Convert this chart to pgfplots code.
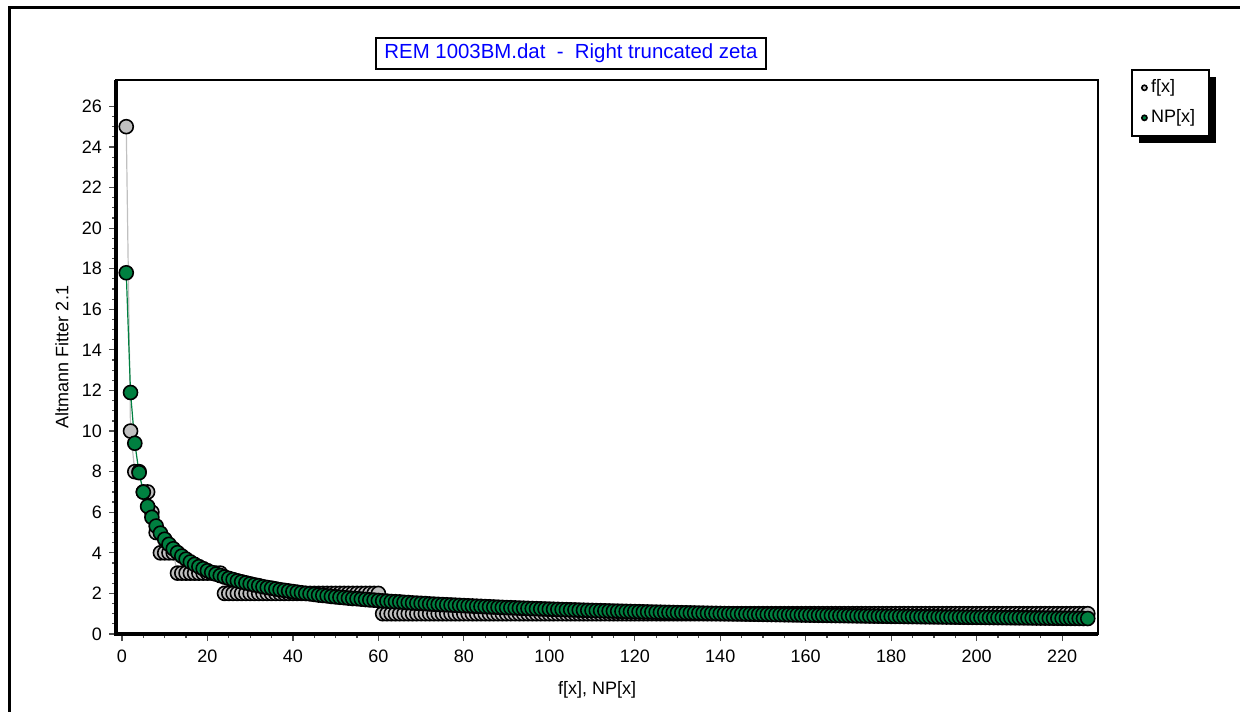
\documentclass[border=0pt]{standalone}
\usepackage{fontspec}
\setmainfont{Liberation Sans}
\usepackage{pgfplots}
\usepackage{pgfplotstable}
\pgfplotsset{compat=1.18}
\usetikzlibrary{shadows}
\definecolor{silv}{RGB}{192,192,192}
\definecolor{fitgreen}{RGB}{0,128,64}
\definecolor{ttlblue}{RGB}{0,0,255}
\pgfplotstableread{
x f np
1 25 17.80
2 10 11.90
3 8 9.40
4 8 7.95
5 7 6.99
6 7 6.29
7 6 5.75
8 5 5.32
9 4 4.97
10 4 4.67
11 4 4.42
12 4 4.20
13 3 4.01
14 3 3.84
15 3 3.69
16 3 3.55
17 3 3.43
18 3 3.32
19 3 3.22
20 3 3.12
21 3 3.03
22 3 2.95
23 3 2.88
24 2 2.81
25 2 2.74
26 2 2.68
27 2 2.62
28 2 2.57
29 2 2.52
30 2 2.47
31 2 2.42
32 2 2.38
33 2 2.33
34 2 2.29
35 2 2.26
36 2 2.22
37 2 2.18
38 2 2.15
39 2 2.12
40 2 2.09
41 2 2.06
42 2 2.03
43 2 2.00
44 2 1.98
45 2 1.95
46 2 1.92
47 2 1.90
48 2 1.88
49 2 1.85
50 2 1.83
51 2 1.81
52 2 1.79
53 2 1.77
54 2 1.75
55 2 1.74
56 2 1.72
57 2 1.70
58 2 1.68
59 2 1.67
60 2 1.65
61 1 1.63
62 1 1.62
63 1 1.60
64 1 1.59
65 1 1.58
66 1 1.56
67 1 1.55
68 1 1.53
69 1 1.52
70 1 1.51
71 1 1.50
72 1 1.48
73 1 1.47
74 1 1.46
75 1 1.45
76 1 1.44
77 1 1.43
78 1 1.42
79 1 1.41
80 1 1.40
81 1 1.39
82 1 1.38
83 1 1.37
84 1 1.36
85 1 1.35
86 1 1.34
87 1 1.33
88 1 1.32
89 1 1.31
90 1 1.30
91 1 1.295
92 1 1.286
93 1 1.278
94 1 1.270
95 1 1.263
96 1 1.255
97 1 1.248
98 1 1.240
99 1 1.233
100 1 1.226
101 1 1.219
102 1 1.212
103 1 1.205
104 1 1.198
105 1 1.192
106 1 1.185
107 1 1.179
108 1 1.172
109 1 1.166
110 1 1.160
111 1 1.154
112 1 1.148
113 1 1.142
114 1 1.136
115 1 1.130
116 1 1.125
117 1 1.119
118 1 1.114
119 1 1.108
120 1 1.103
121 1 1.098
122 1 1.092
123 1 1.087
124 1 1.082
125 1 1.077
126 1 1.072
127 1 1.067
128 1 1.062
129 1 1.058
130 1 1.053
131 1 1.048
132 1 1.044
133 1 1.039
134 1 1.035
135 1 1.030
136 1 1.026
137 1 1.021
138 1 1.017
139 1 1.013
140 1 1.008
141 1 1.004
142 1 1.000
143 1 0.995
144 1 0.991
145 1 0.988
146 1 0.984
147 1 0.980
148 1 0.976
149 1 0.972
150 1 0.968
151 1 0.964
152 1 0.961
153 1 0.957
154 1 0.954
155 1 0.950
156 1 0.947
157 1 0.943
158 1 0.940
159 1 0.936
160 1 0.933
161 1 0.930
162 1 0.926
163 1 0.923
164 1 0.920
165 1 0.917
166 1 0.913
167 1 0.910
168 1 0.907
169 1 0.904
170 1 0.901
171 1 0.898
172 1 0.895
173 1 0.892
174 1 0.889
175 1 0.886
176 1 0.883
177 1 0.880
178 1 0.877
179 1 0.874
180 1 0.871
181 1 0.868
182 1 0.866
183 1 0.863
184 1 0.860
185 1 0.857
186 1 0.855
187 1 0.852
188 1 0.849
189 1 0.847
190 1 0.844
191 1 0.841
192 1 0.839
193 1 0.836
194 1 0.834
195 1 0.831
196 1 0.829
197 1 0.826
198 1 0.824
199 1 0.821
200 1 0.819
201 1 0.817
202 1 0.815
203 1 0.812
204 1 0.810
205 1 0.808
206 1 0.806
207 1 0.804
208 1 0.801
209 1 0.799
210 1 0.797
211 1 0.795
212 1 0.793
213 1 0.790
214 1 0.788
215 1 0.786
216 1 0.784
217 1 0.782
218 1 0.779
219 1 0.777
220 1 0.775
221 1 0.773
222 1 0.771
223 1 0.769
224 1 0.767
225 1 0.765
226 1 0.763
}\datatab
\begin{document}
\begin{tikzpicture}
\useasboundingbox (0,0) rectangle (620pt,355.5pt);
\draw[line width=1.5pt] (4.5pt,-20pt) -- (4.5pt,351.5pt) -- (640pt,351.5pt);
\begin{axis}[
  name=ax,
  at={(58pt,38.5pt)}, anchor=south west,
  scale only axis, width=491pt, height=277pt,
  xmin=-1.4, xmax=228.4, ymin=0, ymax=27.3,
  xtick={0,20,...,220}, ytick={0,2,...,26},
  xtick pos=left, ytick pos=left,
  minor x tick num=3, minor y tick num=3,
  tick align=outside,
  major tick length=3.5pt, minor tick length=2pt,
  every tick/.style={gray!60!black, line width=0.6pt},
  axis line style={line width=1pt},
  tick label style={font=\fontsize{9}{10}\selectfont},
  /pgf/number format/assume math mode=true,
  xticklabel style={yshift=-1pt},
  xlabel={f[x], NP[x]},
  ylabel={Altmann Fitter 2.1},
  label style={font=\fontsize{9}{10}\selectfont},
  xlabel style={at={(rel axis cs:0.5,0)}, anchor=center, yshift=-28pt, xshift=-5pt},
  ylabel style={at={(rel axis cs:0,0.5)}, anchor=center, yshift=27pt},
  legend style={at={(rel axis cs:1.0336,1.0199)}, anchor=north west,
    draw=black, line width=0.8pt, fill=white,
    drop shadow={shadow xshift=3.5pt, shadow yshift=-3.5pt, fill=black, opacity=1},
    font=\fontsize{9}{10}\selectfont, row sep=3pt, inner xsep=5pt, inner ysep=3pt},
  legend cell align=left,
  legend image code/.code={\draw[#1, mark size=1.3pt] plot coordinates {(0.1cm,0cm)};},
]
\addplot[color=silv, line width=0.6pt, mark=*, mark size=3.5pt,
  mark options={fill=silv, draw=black, line width=0.8pt}] table[x=x, y=f] {\datatab};
\addlegendentry{f[x]}
\addplot[color=fitgreen, line width=0.6pt, mark=*, mark size=3.5pt,
  mark options={fill=fitgreen, draw=black, line width=0.8pt}] table[x=x, y=np] {\datatab};
\addlegendentry{NP[x]}
\end{axis}
\draw[line width=1.75pt] (ax.north west) -- (ax.south west) -- (ax.south east);
\node[draw=black, line width=1pt, inner xsep=4pt, inner ysep=3pt, text=ttlblue,
  font=\fontsize{10.2}{11}\selectfont] at (285.5pt,328.75pt) {REM 1003BM.dat \ - \ Right truncated zeta};
\end{tikzpicture}
\end{document}
